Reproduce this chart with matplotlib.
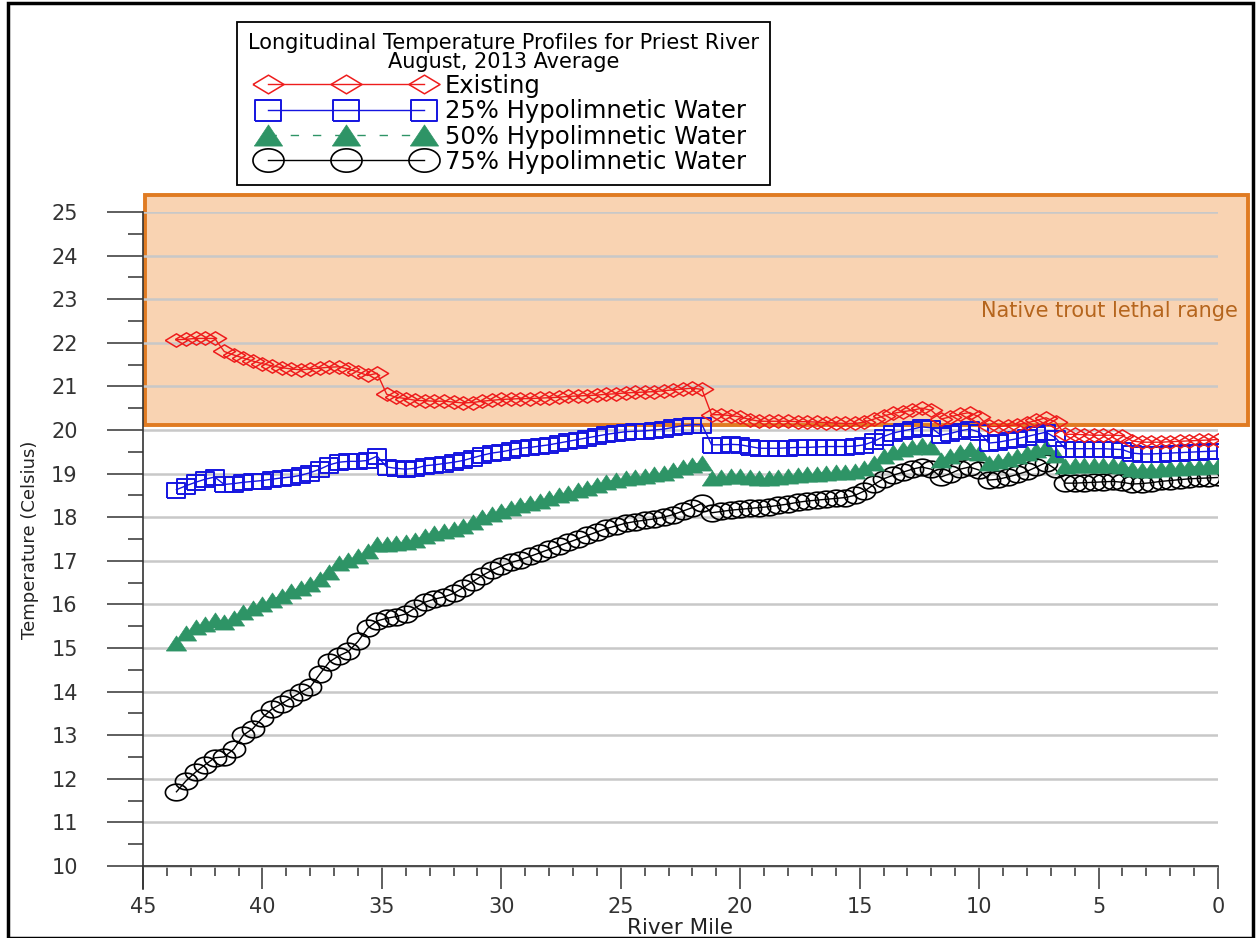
import matplotlib
matplotlib.use("Agg")
import matplotlib.pyplot as plt
import numpy as np
from matplotlib.patches import Rectangle

# river mile of each model node (upstream -> downstream)
miles = [43.6, 43.2, 42.8, 42.4, 42.0, 41.6, 41.2, 40.8, 40.4, 40.0,
         39.6, 39.2, 38.8, 38.4, 38.0, 37.6, 37.2, 36.8, 36.4, 36.0,
         35.6, 35.2, 34.8, 34.4, 34.0, 33.6, 33.2, 32.8, 32.4, 32.0,
         31.6, 31.2, 30.8, 30.4, 30.0, 29.6, 29.2, 28.8, 28.4, 28.0,
         27.6, 27.2, 26.8, 26.4, 26.0, 25.6, 25.2, 24.8, 24.4, 24.0,
         23.6, 23.2, 22.8, 22.4, 22.0, 21.6, 21.2, 20.8, 20.4, 20.0,
         19.6, 19.2, 18.8, 18.4, 18.0, 17.6, 17.2, 16.8, 16.4, 16.0,
         15.6, 15.2, 14.8, 14.4, 14.0, 13.6, 13.2, 12.8, 12.4, 12.0,
         11.6, 11.2, 10.8, 10.4, 10.0, 9.6, 9.2, 8.8, 8.4, 8.0,
         7.6, 7.2, 6.8, 6.4, 6.0, 5.6, 5.2, 4.8, 4.4, 4.0,
         3.6, 3.2, 2.8, 2.4, 2.0, 1.6, 1.2, 0.8, 0.4, 0.0]

existing = [22.07, 22.08, 22.10, 22.10, 22.10, 21.80, 21.72, 21.65, 21.58, 21.52,
            21.47, 21.43, 21.40, 21.38, 21.40, 21.42, 21.44, 21.45, 21.40, 21.33,
            21.25, 21.30, 20.82, 20.75, 20.72, 20.68, 20.67, 20.66, 20.66, 20.64,
            20.62, 20.63, 20.66, 20.68, 20.70, 20.71, 20.72, 20.72, 20.73, 20.74,
            20.75, 20.77, 20.78, 20.79, 20.80, 20.82, 20.83, 20.85, 20.86, 20.87,
            20.88, 20.90, 20.92, 20.94, 20.96, 20.93, 20.35, 20.35, 20.33, 20.30,
            20.24, 20.20, 20.20, 20.20, 20.20, 20.19, 20.19, 20.18, 20.17, 20.16,
            20.15, 20.15, 20.18, 20.25, 20.32, 20.38, 20.42, 20.45, 20.50, 20.45,
            20.25, 20.30, 20.36, 20.40, 20.30, 20.08, 20.08, 20.10, 20.12, 20.16,
            20.22, 20.28, 20.18, 19.90, 19.90, 19.89, 19.88, 19.88, 19.88, 19.87,
            19.75, 19.72, 19.72, 19.72, 19.73, 19.74, 19.75, 19.76, 19.77, 19.78]

hypo25 = [18.63, 18.72, 18.80, 18.87, 18.92, 18.75, 18.77, 18.80, 18.82, 18.84,
          18.87, 18.90, 18.92, 18.96, 19.02, 19.10, 19.20, 19.26, 19.28, 19.28,
          19.30, 19.40, 19.15, 19.12, 19.10, 19.12, 19.18, 19.20, 19.23, 19.26,
          19.30, 19.36, 19.42, 19.47, 19.50, 19.54, 19.58, 19.60, 19.63, 19.66,
          19.70, 19.74, 19.78, 19.82, 19.86, 19.90, 19.93, 19.96, 19.97, 19.98,
          20.00, 20.02, 20.06, 20.10, 20.12, 20.12, 19.66, 19.66, 19.67, 19.66,
          19.62, 19.58, 19.58, 19.58, 19.59, 19.60, 19.60, 19.61, 19.62, 19.62,
          19.62, 19.63, 19.66, 19.74, 19.85, 19.93, 19.98, 20.02, 20.07, 20.05,
          19.88, 19.92, 19.98, 20.02, 19.95, 19.70, 19.72, 19.76, 19.80, 19.85,
          19.90, 19.95, 19.82, 19.57, 19.57, 19.57, 19.57, 19.57, 19.56, 19.55,
          19.47, 19.45, 19.45, 19.46, 19.47, 19.48, 19.49, 19.50, 19.51, 19.52]

hypo50 = [15.12, 15.35, 15.47, 15.55, 15.65, 15.60, 15.68, 15.82, 15.92, 16.00,
          16.10, 16.20, 16.30, 16.38, 16.46, 16.58, 16.75, 16.95, 17.02, 17.10,
          17.22, 17.38, 17.38, 17.40, 17.42, 17.48, 17.56, 17.63, 17.68, 17.72,
          17.80, 17.90, 18.00, 18.08, 18.15, 18.22, 18.28, 18.32, 18.37, 18.43,
          18.50, 18.56, 18.62, 18.68, 18.74, 18.80, 18.86, 18.90, 18.93, 18.95,
          18.98, 19.02, 19.08, 19.14, 19.20, 19.25, 18.90, 18.92, 18.95, 18.95,
          18.93, 18.90, 18.90, 18.92, 18.94, 18.96, 18.98, 19.00, 19.02, 19.03,
          19.03, 19.05, 19.12, 19.25, 19.40, 19.50, 19.56, 19.60, 19.65, 19.60,
          19.32, 19.40, 19.50, 19.56, 19.48, 19.25, 19.28, 19.33, 19.40, 19.47,
          19.54, 19.60, 19.42, 19.18, 19.19, 19.20, 19.20, 19.20, 19.20, 19.18,
          19.10, 19.08, 19.09, 19.10, 19.12, 19.13, 19.15, 19.16, 19.17, 19.18]

hypo75 = [11.70, 11.95, 12.15, 12.32, 12.48, 12.50, 12.68, 13.00, 13.15, 13.40,
          13.60, 13.72, 13.85, 13.98, 14.10, 14.40, 14.68, 14.82, 14.92, 15.15,
          15.45, 15.62, 15.68, 15.72, 15.78, 15.92, 16.05, 16.12, 16.17, 16.25,
          16.38, 16.52, 16.66, 16.78, 16.88, 16.96, 17.02, 17.10, 17.18, 17.26,
          17.34, 17.42, 17.50, 17.58, 17.66, 17.74, 17.80, 17.86, 17.90, 17.93,
          17.96, 18.00, 18.06, 18.14, 18.22, 18.32, 18.10, 18.13, 18.16, 18.18,
          18.20, 18.22, 18.24, 18.27, 18.30, 18.34, 18.37, 18.39, 18.41, 18.43,
          18.45, 18.50, 18.60, 18.75, 18.88, 18.96, 19.03, 19.10, 19.15, 19.10,
          18.92, 19.00, 19.10, 19.15, 19.08, 18.85, 18.87, 18.92, 18.98, 19.05,
          19.15, 19.25, 19.10, 18.78, 18.78, 18.79, 18.80, 18.81, 18.82, 18.80,
          18.76, 18.77, 18.79, 18.82, 18.84, 18.86, 18.88, 18.89, 18.90, 18.91]

labels = ["Existing", "25% Hypolimnetic Water", "50% Hypolimnetic Water", "75% Hypolimnetic Water"]
legend_title = "Longitudinal Temperature Profiles for Priest River\nAugust, 2013 Average"

# lethal range band
lethal_lo = 20.12
lethal_hi = 25.4

plt.rcParams['font.family'] = ['DejaVu Sans']

# markers are a bit wider than tall in the original
diamond = [(-1, 0), (0, 0.6), (1, 0), (0, -0.6), (-1, 0)]
square = [(-1, -0.8), (1, -0.8), (1, 0.8), (-1, 0.8), (-1, -0.8)]
triangle = [(-1, -0.75), (1, -0.75), (0, 0.75), (-1, -0.75)]
t = np.linspace(0, 2 * np.pi, 40)
ellipse = list(zip(np.cos(t), 0.75 * np.sin(t)))

fig = plt.figure(figsize=(12.57, 9.38), dpi=100)
ax = fig.add_axes([143 / 1257, 49 / 938, 1075 / 1257, 677 / 938])

l1, = ax.plot(miles, existing, color='#EE1C1C', lw=1, marker=diamond, ms=16,
              mfc='none', mec='#EE1C1C', mew=1.1, zorder=5)
l2, = ax.plot(miles, hypo25, color='#1414E0', lw=1, marker=square, ms=13.5,
              mfc='none', mec='#1414E0', mew=1.4, zorder=4)
l3, = ax.plot(miles, hypo50, color='#2E9466', lw=1, ls=(0, (6, 10)), marker=triangle,
              ms=14.5, mfc='#2E9466', mec='#2E9466', mew=0.5, zorder=3)
l4, = ax.plot(miles, hypo75, color='black', lw=1, marker=ellipse, ms=16,
              mfc='none', mec='black', mew=1.2, zorder=2)

box = Rectangle((44.9, lethal_lo), -1.25 - 44.9, lethal_hi - lethal_lo, facecolor='#F9D3B2',
                edgecolor='#E07B22', lw=2.8, zorder=0.3, clip_on=False)
ax.add_patch(box)
ax.text(-0.85, 22.73, "Native trout lethal range", ha='right', va='center',
        color='#B5651D', fontsize=15, clip_on=False)

ax.set_xlim(45, 0)
ax.set_ylim(9.47, 25)
ax.set_axisbelow(True)
ax.yaxis.grid(True, color='#C8C8C8', lw=1.8)

for s in ['top', 'right']:
    ax.spines[s].set_visible(False)
ax.spines['bottom'].set_position(('data', 10))
ax.spines['left'].set_color('#333333')
ax.spines['bottom'].set_color('#333333')
ax.spines['left'].set_linewidth(1.2)
ax.spines['bottom'].set_linewidth(1.2)

ax.set_yticks(np.arange(10, 26, 1))
ax.set_yticks(np.arange(10.5, 25, 1), minor=True)
ax.set_xticks(np.arange(0, 46, 5))
ax.set_xticks(np.arange(0, 46, 1), minor=True)
ax.tick_params(axis='y', which='major', length=26, width=1.1, color='#333333',
               pad=21, labelsize=15, labelcolor='#333333')
ax.tick_params(axis='y', which='minor', length=11, width=1.1, color='#333333')
ax.tick_params(axis='x', which='major', length=16.5, width=1.1, color='#333333',
               pad=6, labelsize=15, labelcolor='#333333')
ax.tick_params(axis='x', which='minor', length=7, width=1.1, color='#333333')

fig.text(30 / 1257, 1 - 540 / 938, "Temperature (Celsius)", rotation=90,
         ha='center', va='center', fontsize=13, color='#222222')
fig.text(680 / 1257, 1 - 928 / 938, "River Mile", ha='center', va='center',
         fontsize=15.5, color='#222222')

leg = fig.legend([l1, l2, l3, l4], labels, loc='upper left',
                 bbox_to_anchor=(237 / 1257, 1 - 22 / 938), bbox_transform=fig.transFigure,
                 borderaxespad=0, numpoints=3, handlelength=7.0, handletextpad=0.55,
                 labelspacing=0.06, borderpad=0.45, markerscale=1.4,
                 fancybox=False, edgecolor='black', framealpha=1,
                 prop={'size': 17.5}, title=legend_title, alignment='center',
                 title_fontproperties={'size': 15})
leg.get_frame().set_linewidth(1.3)
leg.get_title().set_linespacing(0.95)
leg.get_title().set_multialignment('center')

# frame around the whole picture
fig.add_artist(Rectangle((8 / 1257, 0), 1245 / 1257, 1 - 3 / 938, transform=fig.transFigure,
                         fill=False, edgecolor='black', lw=2.5))

fig.savefig("out.png", dpi=100)
